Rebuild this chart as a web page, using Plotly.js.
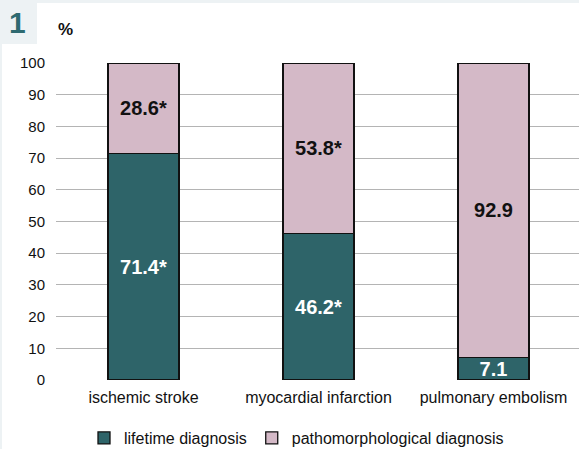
<!DOCTYPE html>
<html>
<head>
<meta charset="utf-8">
<script src="https://cdn.plot.ly/plotly-3.0.1.min.js"></script>
<style>
  html, body { margin: 0; padding: 0; background: #ffffff; }
  #chart { width: 579px; height: 449px; }
</style>
</head>
<body>
<div id="chart"></div>
<script>
// ---- data ----
const categories = ['ischemic stroke', 'myocardial infarction', 'pulmonary embolism'];
const lifetimeValues = [71.4, 46.2, 7.1];
const pathoValues = [28.6, 53.8, 92.9];
const lifetimeSignificant = [true, true, false];
const pathoSignificant = [true, true, false];
const yTickValues = [0, 10, 20, 30, 40, 50, 60, 70, 80, 90, 100];
const seriesNames = ['lifetime diagnosis', 'pathomorphological diagnosis'];

const W = 579, H = 449;
const M = { l: 56, r: 0, t: 63, b: 69 };
const plotW = W - M.l - M.r, plotH = H - M.t - M.b;
const px2x = p => (p - M.l) / plotW;
const px2y = p => (H - M.b - p) / plotH;

const FONT = 'Liberation Sans, Arial, sans-serif';
const teal = '#2e6469';
const pink = '#d4b9c7';
const frame = '#edf2f4';

function labels(vals, sig) {
  return vals.map((v, i) => '<b>' + v.toFixed(1) + (sig[i] ? '*' : '') + '</b>');
}

const traces = [
  {
    type: 'bar', name: seriesNames[0], x: categories, y: lifetimeValues,
    text: labels(lifetimeValues, lifetimeSignificant), textposition: 'inside',
    insidetextanchor: 'middle', textangle: 0,
    textfont: { family: FONT, size: 20, color: '#ffffff' },
    marker: { color: teal, line: { color: '#111111', width: 1.3 } },
    width: 0.405, hoverinfo: 'none'
  },
  {
    type: 'bar', name: seriesNames[1], x: categories, y: pathoValues,
    text: labels(pathoValues, pathoSignificant), textposition: 'inside',
    insidetextanchor: 'middle', textangle: 0,
    textfont: { family: FONT, size: 20, color: '#111111' },
    marker: { color: pink, line: { color: '#111111', width: 1.3 } },
    width: 0.405, hoverinfo: 'none'
  }
];

const layout = {
  width: W, height: H,
  margin: M,
  paper_bgcolor: '#ffffff', plot_bgcolor: '#ffffff',
  barmode: 'stack',
  uniformtext: { minsize: 20, mode: 'show' },
  font: { family: FONT, color: '#111111', size: 16 },
  showlegend: true,
  legend: {
    orientation: 'h', xref: 'container', yref: 'container',
    x: 84 / W, xanchor: 'left', y: 1 - 421 / H, yanchor: 'top',
    font: { family: FONT, size: 16, color: '#111111' },
    traceorder: 'normal', itemwidth: 30, bgcolor: 'rgba(0,0,0,0)'
  },
  xaxis: {
    type: 'category', range: [-0.5, -0.5 + plotW / 175],
    showgrid: false, zeroline: false, showline: false, ticks: '',
    tickfont: { family: FONT, size: 16, color: '#111111' },
    ticklabelstandoff: 6, fixedrange: true, automargin: false
  },
  yaxis: {
    range: [0, 100], tickvals: yTickValues, ticktext: yTickValues.map(String),
    showgrid: true, gridcolor: '#b4b4b4', gridwidth: 1.2,
    zeroline: false, showline: false, ticks: '',
    tickfont: { family: FONT, size: 15, color: '#111111' },
    ticklabelstandoff: 10, fixedrange: true, automargin: false
  },
  shapes: [
    { type: 'rect', xref: 'paper', yref: 'paper', layer: 'below',
      x0: px2x(0), x1: px2x(W), y0: px2y(3), y1: px2y(0),
      fillcolor: frame, line: { width: 0 } },
    { type: 'rect', xref: 'paper', yref: 'paper', layer: 'below',
      x0: px2x(0), x1: px2x(2), y0: px2y(H), y1: px2y(0),
      fillcolor: frame, line: { width: 0 } },
    { type: 'rect', xref: 'paper', yref: 'paper', layer: 'below',
      x0: px2x(0), x1: px2x(37), y0: px2y(44), y1: px2y(0),
      fillcolor: frame, line: { width: 0 } }
  ],
  annotations: [
    { text: '<b>1</b>', xref: 'paper', yref: 'paper', x: px2x(17), y: px2y(23),
      xanchor: 'center', yanchor: 'middle', showarrow: false,
      font: { family: FONT, size: 30, color: '#2e6a70' } },
    { text: '<b>%</b>', xref: 'paper', yref: 'paper', x: px2x(56), y: px2y(30),
      xanchor: 'left', yanchor: 'middle', showarrow: false,
      font: { family: FONT, size: 17, color: '#111111' } }
  ]
};

Plotly.newPlot('chart', traces, layout, { displayModeBar: false, staticPlot: true });
</script>
</body>
</html>
